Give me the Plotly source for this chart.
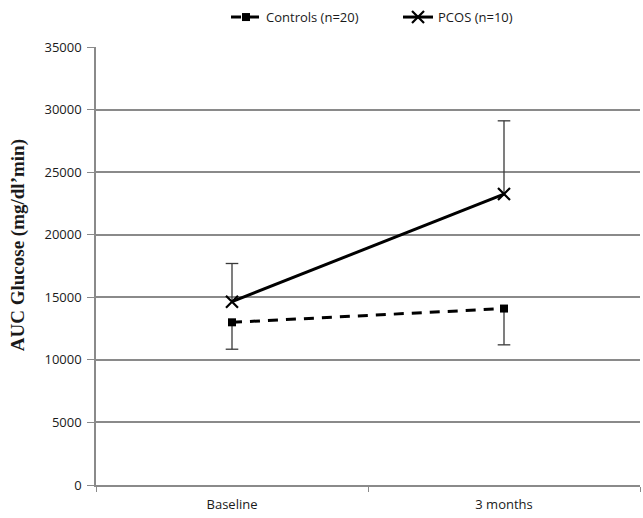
import plotly.graph_objects as go

categories = ["Baseline", "3 months"]
controls_mean = [13000, 14100]
controls_err_minus = [2150, 2900]
pcos_mean = [14650, 23250]
pcos_err_plus = [3050, 5850]

controls_name = "Controls (n=20)"
pcos_name = "PCOS (n=10)"
y_title = "AUC Glucose (mg/dl\u2019min)"

y_ticks = [0, 5000, 10000, 15000, 20000, 25000, 30000, 35000]

err_color = "#3a3a3a"
grid_color = "#8a8a8a"
txt_color = "#1a1a1a"

fig = go.Figure()

# error bars (one-sided), caps drawn as markers at bar ends
fig.add_trace(go.Scatter(
    x=categories, y=controls_mean, mode="markers",
    marker=dict(size=1, color="rgba(0,0,0,0)"),
    error_y=dict(type="data", symmetric=False, array=[0, 0],
                 arrayminus=controls_err_minus, color=err_color,
                 thickness=1.3, width=0),
    showlegend=False, hoverinfo="skip"))
fig.add_trace(go.Scatter(
    x=categories, y=[m - e for m, e in zip(controls_mean, controls_err_minus)],
    mode="markers", marker=dict(symbol="line-ew", size=9,
                                line=dict(color=err_color, width=1.3)),
    showlegend=False, hoverinfo="skip"))
fig.add_trace(go.Scatter(
    x=categories, y=pcos_mean, mode="markers",
    marker=dict(size=1, color="rgba(0,0,0,0)"),
    error_y=dict(type="data", symmetric=False, array=pcos_err_plus,
                 arrayminus=[0, 0], color=err_color, thickness=1.3, width=0),
    showlegend=False, hoverinfo="skip"))
fig.add_trace(go.Scatter(
    x=categories, y=[m + e for m, e in zip(pcos_mean, pcos_err_plus)],
    mode="markers", marker=dict(symbol="line-ew", size=9,
                                line=dict(color=err_color, width=1.3)),
    showlegend=False, hoverinfo="skip"))

fig.add_trace(go.Scatter(
    x=categories, y=controls_mean, name=controls_name,
    mode="lines+markers",
    line=dict(color="black", width=3, dash="10px,8px"),
    marker=dict(symbol="square", size=8, color="black")))
fig.add_trace(go.Scatter(
    x=categories, y=pcos_mean, name=pcos_name,
    mode="lines+markers",
    line=dict(color="black", width=3),
    marker=dict(symbol="x-thin", size=12, color="black",
                line=dict(color="black", width=2.2))))

fig.update_layout(
    width=643, height=518,
    margin=dict(l=96, r=3, t=47, b=33),
    paper_bgcolor="white", plot_bgcolor="white",
    font=dict(family="Open Sans", size=13, color=txt_color),
    legend=dict(orientation="h", xref="container", yref="container",
                x=0.619, xanchor="center", y=0.967, yanchor="middle",
                entrywidth=127,
                font=dict(family="Open Sans", size=13, color=txt_color),
                bgcolor="rgba(0,0,0,0)"),
    xaxis=dict(type="category", range=[-0.5, 1.5], tickson="boundaries",
               ticks="outside", ticklen=5, tickcolor=grid_color,
               showline=True, linecolor=grid_color, linewidth=1.5,
               showgrid=False, tickfont=dict(size=13), automargin=False,
               ticklabelstandoff=7),
    yaxis=dict(range=[0, 35000], tickvals=y_ticks,
               ticktext=[str(v) for v in y_ticks],
               ticks="outside", ticklen=7, tickcolor=grid_color,
               showline=True, linecolor=grid_color, linewidth=1.5,
               showgrid=True, gridcolor=grid_color, gridwidth=1.5,
               zeroline=False, tickfont=dict(size=13), automargin=False,
               ticklabelstandoff=3),
    annotations=[dict(text="<b>" + y_title + "</b>", textangle=-90,
                      xref="paper", yref="paper", x=-0.143, y=0.548,
                      xanchor="center", yanchor="middle", showarrow=False,
                      font=dict(family="Liberation Serif", size=19,
                                color=txt_color))],
)

fig.write_html(
    "out.html",
    config={"displayModeBar": False},
    post_script="document.body.style.margin='0';"
                "document.body.style.overflow='hidden';",
)
